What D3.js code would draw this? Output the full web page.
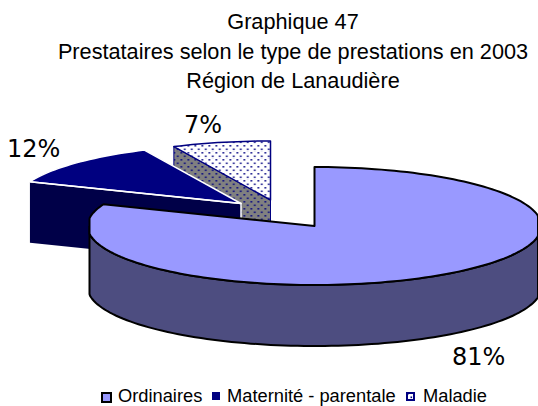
<!DOCTYPE html>
<html>
<head>
<meta charset="utf-8">
<script src="https://cdn.jsdelivr.net/npm/d3@7"></script>
<style>
  body { margin: 0; background: #fff; }
  svg { display: block; }
  text { font-family: "Liberation Sans", Arial, sans-serif; fill: #000; }
</style>
</head>
<body>
<svg id="chart" width="538" height="406"></svg>
<script>
const titleLines = ["Graphique 47", "Prestataires selon le type de prestations en 2003", "Région de Lanaudière"];
const categories = ["Ordinaires", "Maternité - parentale", "Maladie"];
const shares = [81, 12, 7];
const topColors = ["#9999ff", "#000080", "url(#dotsWhite)"];
const sideColors = ["#4d4d80", "#000048", "url(#dotsGray)"];
const lineColors = ["#000", "#fff", "#000080"];

const svg = d3.select("#chart");
const defs = svg.append("defs");

function dots(id, bg) {
    const p = defs.append("pattern").attr("id", id).attr("width", 7).attr("height", 7)
        .attr("patternUnits", "userSpaceOnUse");
    p.append("rect").attr("width", 7).attr("height", 7).attr("fill", bg);
    p.append("rect").attr("x", 1).attr("y", 1).attr("width", 1.6).attr("height", 1.6).attr("fill", "#000080");
    p.append("rect").attr("x", 4.5).attr("y", 4.5).attr("width", 1.6).attr("height", 1.6).attr("fill", "#000080");
}
dots("dotsWhite", "#fff");
dots("dotsGray", "#808080");

// flattened pie: unit circle mapped onto an ellipse
const sx = d3.scaleLinear().domain([-1, 1]).range([-227, 227]);
const sy = d3.scaleLinear().domain([-1, 1]).range([-59, 59]);
const depth = 61;
const center = [314.5, 226];
// each slice is pulled away from the centre, big one stays put
const offsets = [[0, 0], [-73.5, -22.5], [-44, -26]];
// big slice is cut off flat on both sides in the original
const clampX = d3.scaleLinear().domain([-225, 223.5]).range([-225, 223.5]).clamp(true);

const slices = d3.pie().sort(null)(shares);
const line = d3.line();

function rim(a0, a1) {
    const n = Math.max(2, Math.ceil((a1 - a0) / 0.03));
    return d3.range(n + 1).map(i => {
        const a = a0 + (a1 - a0) * i / n;
        return [sx(Math.sin(a)), sy(-Math.cos(a))];
    });
}

// back slices first, the big one goes on top
const chart = svg.append("g").attr("transform", `translate(${center[0]},${center[1]})`);
[2, 1, 0].forEach(i => {
    const s = slices[i];
    const g = chart.append("g").attr("transform", `translate(${offsets[i][0]},${offsets[i][1]})`);
    let edge = rim(s.startAngle, s.endAngle);

    if (i === 0) {
        edge = edge.map(p => [clampX(p[0]), p[1]]);
        // outer wall, only the part facing us
        const front = rim(Math.PI / 2, 3 * Math.PI / 2).map(p => [clampX(p[0]), p[1]]);
        const wall = front.concat(front.slice().reverse().map(p => [p[0], p[1] + depth]));
        g.append("path").attr("d", line(wall) + "Z")
            .attr("fill", sideColors[i]).attr("stroke", lineColors[i]).attr("stroke-width", 2);
    } else {
        // cut face on the start side of the slice
        const p = edge[0];
        const face = [p, [0, 0], [0, depth], [p[0], p[1] + depth]];
        g.append("path").attr("d", line(face) + "Z")
            .attr("fill", sideColors[i]).attr("stroke", i === 1 ? "none" : lineColors[i]);
    }
    g.append("path").attr("d", line([[0, 0]].concat(edge)) + "Z")
        .attr("fill", topColors[i]).attr("stroke", lineColors[i]).attr("stroke-width", i === 0 ? 2 : 1.5)
        .attr("stroke-linejoin", "round");
    if (i === 1) {
        // white line along the visible cut
        g.append("path").attr("d", line([edge[0], [0, 0], [0, depth]]))
            .attr("fill", "none").attr("stroke", "#fff").attr("stroke-width", 1.5);
    }
});

svg.selectAll(".title").data(titleLines).enter().append("text")
    .attr("class", "title")
    .attr("x", 293)
    .attr("y", (d, i) => 29 + i * 29.5)
    .attr("text-anchor", "middle")
    .attr("font-size", 21.7)
    .text(d => d);

const labelPos = [[452, 365], [7, 157], [184, 133]];
svg.selectAll(".pct").data(shares).enter().append("text")
    .attr("class", "pct")
    .attr("x", (d, i) => labelPos[i][0])
    .attr("y", (d, i) => labelPos[i][1])
    .attr("font-size", 24)
    .style("font-family", "'DejaVu Sans', Verdana, sans-serif")
    .text(d => d + "%");

const legendX = [102, 213, 407];
const legendText = [118, 227, 423];
const legendSize = [9, 6, 7];
const legend = svg.selectAll(".legend").data(categories).enter().append("g")
    .attr("class", "legend");
legend.append("rect")
    .attr("x", (d, i) => legendX[i]).attr("y", 393)
    .attr("width", (d, i) => legendSize[i]).attr("height", (d, i) => legendSize[i])
    .attr("fill", (d, i) => i === 2 ? "url(#dotsWhite)" : topColors[i])
    .attr("stroke", (d, i) => i === 0 ? "#000" : "#000080")
    .attr("stroke-width", 2);
// baseline sits a bit higher than the original so the descenders stay on the page
legend.append("text")
    .attr("x", (d, i) => legendText[i]).attr("y", 402)
    .attr("font-size", 18.3)
    .text(d => d);
</script>
</body>
</html>
